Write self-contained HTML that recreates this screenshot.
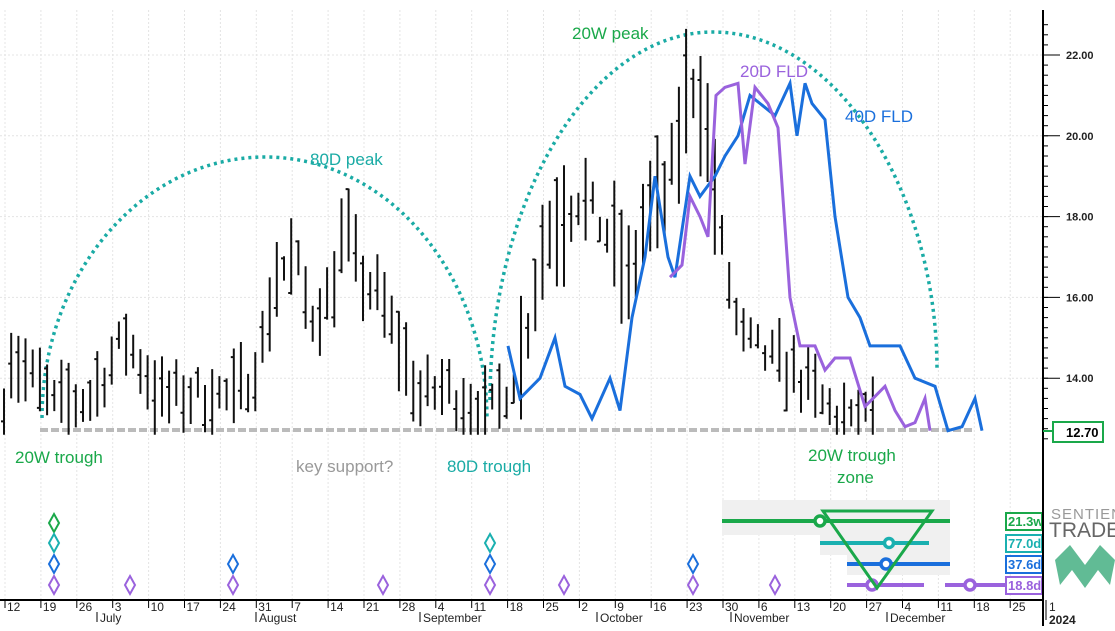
<!DOCTYPE html>
<html><head><meta charset="utf-8"><style>
body{margin:0;background:#fff;width:1115px;height:626px;overflow:hidden;font-family:"Liberation Sans",sans-serif}
</style></head><body>
<svg id="s" width="1115" height="626" xmlns="http://www.w3.org/2000/svg" font-family="Liberation Sans, sans-serif">
<g id="grid"></g>
<rect x="722" y="500" width="228" height="35" fill="#f0f0f0"/>
<rect x="820" y="535" width="130" height="20" fill="#f0f0f0"/>
<rect x="847" y="555" width="103" height="20" fill="#f0f0f0"/>
<line x1="40" y1="430" x2="975" y2="430" stroke="#bbb" stroke-width="4" stroke-dasharray="8,3"/>
<path d="M42,418 C42,274 142,157 265,157 C388,157 487,274 487,420" fill="none" stroke="#1aaba5" stroke-width="3.5" stroke-dasharray="3,4"/>
<path d="M490,400 C490,200 590,32 713,32 C837,32 937,192 937,370" fill="none" stroke="#1aaba5" stroke-width="3.5" stroke-dasharray="3,4"/>
<g id="bars" stroke="#111" stroke-width="2" fill="none"></g>
<polyline id="blue" fill="none" stroke="#1a6fdc" stroke-width="3"/>
<polyline id="purp" fill="none" stroke="#9a62dd" stroke-width="3"/>
<g font-size="17">
<text x="15" y="463" fill="#1aa84a">20W trough</text>
<text x="296" y="472" fill="#999">key support?</text>
<text x="447" y="472" fill="#1aaba5">80D trough</text>
<text x="310" y="165" fill="#1aaba5">80D peak</text>
<text x="572" y="39" fill="#1aa84a">20W peak</text>
<text x="740" y="77" fill="#9a62dd">20D FLD</text>
<text x="845" y="122" fill="#1a6fdc">40D FLD</text>
<text x="808" y="461" fill="#1aa84a">20W trough</text>
<text x="837" y="483" fill="#1aa84a">zone</text>
</g>
<line x1="722" y1="521" x2="950" y2="521" stroke="#1aa84a" stroke-width="4"/>
<circle cx="820" cy="521" r="5" fill="#fff" stroke="#1aa84a" stroke-width="3.5"/>
<line x1="820" y1="543" x2="929" y2="543" stroke="#1ab0b0" stroke-width="4"/>
<circle cx="889" cy="543" r="4.5" fill="#fff" stroke="#1ab0b0" stroke-width="3.5"/>
<line x1="847" y1="564" x2="950" y2="564" stroke="#1a6fdc" stroke-width="4"/>
<circle cx="886" cy="564" r="5" fill="#fff" stroke="#1a6fdc" stroke-width="3.5"/>
<line x1="847" y1="585" x2="924" y2="585" stroke="#9a62dd" stroke-width="4"/>
<line x1="945" y1="585" x2="1005" y2="585" stroke="#9a62dd" stroke-width="4"/>
<circle cx="872" cy="585" r="5" fill="#fff" stroke="#9a62dd" stroke-width="3.5"/>
<circle cx="970" cy="585" r="5" fill="#fff" stroke="#9a62dd" stroke-width="3.5"/>
<polygon points="823,511 932,511 877,588" fill="none" stroke="#1aa84a" stroke-width="3"/>
<g font-size="13" font-weight="bold">
<rect x="1006" y="513" width="36" height="17" fill="#fff" stroke="#1aa84a" stroke-width="2"/><text x="1008" y="526" fill="#1aa84a">21.3w</text>
<rect x="1006" y="535" width="36" height="17" fill="#fff" stroke="#1ab0b0" stroke-width="2"/><text x="1008" y="548" fill="#1ab0b0">77.0d</text>
<rect x="1006" y="556" width="36" height="17" fill="#fff" stroke="#1a6fdc" stroke-width="2"/><text x="1008" y="569" fill="#1a6fdc">37.6d</text>
<rect x="1006" y="577" width="36" height="17" fill="#fff" stroke="#9a62dd" stroke-width="2"/><text x="1008" y="590" fill="#9a62dd">18.8d</text>
</g>
<g id="dia" fill="#fff" stroke-width="2"></g>
<text x="1051" y="519" font-size="15" fill="#999" letter-spacing="1">SENTIENT</text>
<text x="1049" y="537" font-size="21" fill="#666">TRADER</text>
<polygon points="1055,560 1070,545 1085,565 1100,545 1115,560 1110,585 1098,570 1085,588 1072,570 1060,585" fill="#3aaa7a" opacity="0.8"/>
<line x1="0" y1="600" x2="1043" y2="600" stroke="#000" stroke-width="2"/>
<line x1="1043" y1="10" x2="1043" y2="626" stroke="#000" stroke-width="2"/>
<g id="axis" font-size="12" fill="#222"></g>
<rect x="1053" y="422" width="50" height="20" fill="#fff" stroke="#1aa84a" stroke-width="2"/>
<line x1="1043" y1="431" x2="1053" y2="431" stroke="#1aa84a" stroke-width="2"/>
<text x="1066" y="437" font-size="13" font-weight="bold">12.70</text>
</svg>
<script>
const NS="http://www.w3.org/2000/svg";
function el(p,t,a,txt){const e=document.createElementNS(NS,t);for(const k in a)e.setAttribute(k,a[k]);if(txt!==undefined)e.textContent=txt;document.getElementById(p).appendChild(e);return e;}
const Y=p=>55+(22-p)*40.4;
const W=35.9;
const labels=[12,19,26,3,10,17,24,31,7,14,21,28,4,11,18,25,2,9,16,23,30,6,13,20,27,4,11,18,25];
labels.forEach((l,k)=>{const x=5+W*k;
 el("grid","line",{x1:x,y1:10,x2:x,y2:600,stroke:"#e4e4e4","stroke-dasharray":"2,2"});
 el("axis","line",{x1:x,y1:600,x2:x,y2:608,stroke:"#000"});
 el("axis","text",{x:x+2,y:611},l);});
el("axis","line",{x1:1046,y1:600,x2:1046,y2:620,stroke:"#000"});
el("axis","text",{x:1049,y:611},"1");el("axis","text",{x:1049,y:624,"font-weight":"bold"},"2024");
[["July",97],["August",256],["September",420],["October",597],["November",731],["December",887]].forEach(([m,x])=>{
 el("axis","line",{x1:x,y1:612,x2:x,y2:622,stroke:"#000"});el("axis","text",{x:x+3,y:622},m);});
[22,20,18,16,14].forEach(p=>{const y=Y(p);
 el("grid","line",{x1:0,y1:y,x2:1043,y2:y,stroke:"#e4e4e4","stroke-dasharray":"2,2"});
 el("axis","line",{x1:1043,y1:y,x2:1060,y2:y,stroke:"#000"});
 el("axis","text",{x:1066,y:y+4,"font-size":"11","font-weight":"bold"},p.toFixed(2));});
for(let p=12.5;p<23;p+=0.25){const y=Y(p);el("axis","line",{x1:1043,y1:y,x2:1048,y2:y,stroke:"#000"});}
const A=[[5,14.7],[40,13.8],[55,13.3],[90,13.5],[125,15],[160,13.5],[200,13.6],[235,13.5],[260,14.5],[275,16.5],[295,17],[310,15.5],[330,16],[345,17.8],[360,16.5],[380,16],[420,13.5],[445,13.8],[460,13.5],[488,13],[500,13.5],[520,14.3],[545,17.5],[580,18.5],[610,17.5],[630,16.3],[645,18],[665,18.5],[680,20],[690,21.5],[705,20.5],[720,17.5],[740,15],[770,14.5],[800,14],[830,13.2],[850,12.8],[875,13.2]];
function interp(x){for(let i=0;i<A.length-1;i++){if(x>=A[i][0]&&x<=A[i+1][0]){const t=(x-A[i][0])/(A[i+1][0]-A[i][0]);return A[i][1]+t*(A[i+1][1]-A[i][1]);}}return A[A.length-1][1];}
let seed=7;const rnd=()=>{seed=(seed*16807)%2147483647;return seed/2147483647;};
for(let x=4;x<=876;x+=7.18){const m=interp(x)+(rnd()-0.5)*0.8;const r=0.3+rnd()*(x>520&&x<720?1.3:0.7);
 const hi=m+r,lo=Math.max(m-r,12.6);const c=lo+rnd()*(hi-lo);
 el("bars","path",{d:`M${x.toFixed(1)},${Y(hi).toFixed(1)}V${Y(lo).toFixed(1)}M${x.toFixed(1)},${Y(c).toFixed(1)}h-3`});}
const B=[[508,14.8],[520,13.5],[540,14],[555,15],[565,13.8],[580,13.6],[592,13],[610,14],[620,13.2],[632,15.5],[645,17],[655,19],[668,17],[675,16.5],[690,19],[700,18.5],[715,19],[725,19.5],[738,20],[750,21],[760,20.8],[775,20.5],[790,21.3],[797,20],[805,21.3],[812,20.8],[825,20.4],[835,18],[848,16],[860,15.5],[870,14.8],[890,14.8],[900,14.8],[915,14],[935,13.8],[948,12.7],[962,12.8],[975,13.5],[982,12.7]];
const P=[[670,16.5],[682,16.8],[690,18.5],[700,18],[708,17.5],[716,21],[725,21.2],[738,21.3],[745,19.3],[755,21.2],[768,20.8],[778,20.2],[790,16],[800,14.8],[815,14.8],[825,14.2],[835,14.5],[850,14.5],[865,13.3],[885,13.8],[895,13.2],[905,12.8],[915,12.9],[925,13.5],[930,12.7]];
document.getElementById("blue").setAttribute("points",B.map(p=>p[0]+","+Y(p[1]).toFixed(1)).join(" "));
document.getElementById("purp").setAttribute("points",P.map(p=>p[0]+","+Y(p[1]).toFixed(1)).join(" "));
function dm(x,y,c){el("dia","polygon",{points:`${x},${y-9} ${x+5},${y} ${x},${y+9} ${x-5},${y}`,stroke:c});}
dm(54,523,"#1aa84a");dm(54,543,"#1ab0b0");dm(54,564,"#1a6fdc");dm(54,585,"#9a62dd");
dm(130,585,"#9a62dd");dm(233,564,"#1a6fdc");dm(233,585,"#9a62dd");dm(383,585,"#9a62dd");
dm(490,543,"#1ab0b0");dm(490,564,"#1a6fdc");dm(490,585,"#9a62dd");dm(564,585,"#9a62dd");
dm(693,564,"#1a6fdc");dm(693,585,"#9a62dd");dm(775,585,"#9a62dd");
</script>
</body></html>
